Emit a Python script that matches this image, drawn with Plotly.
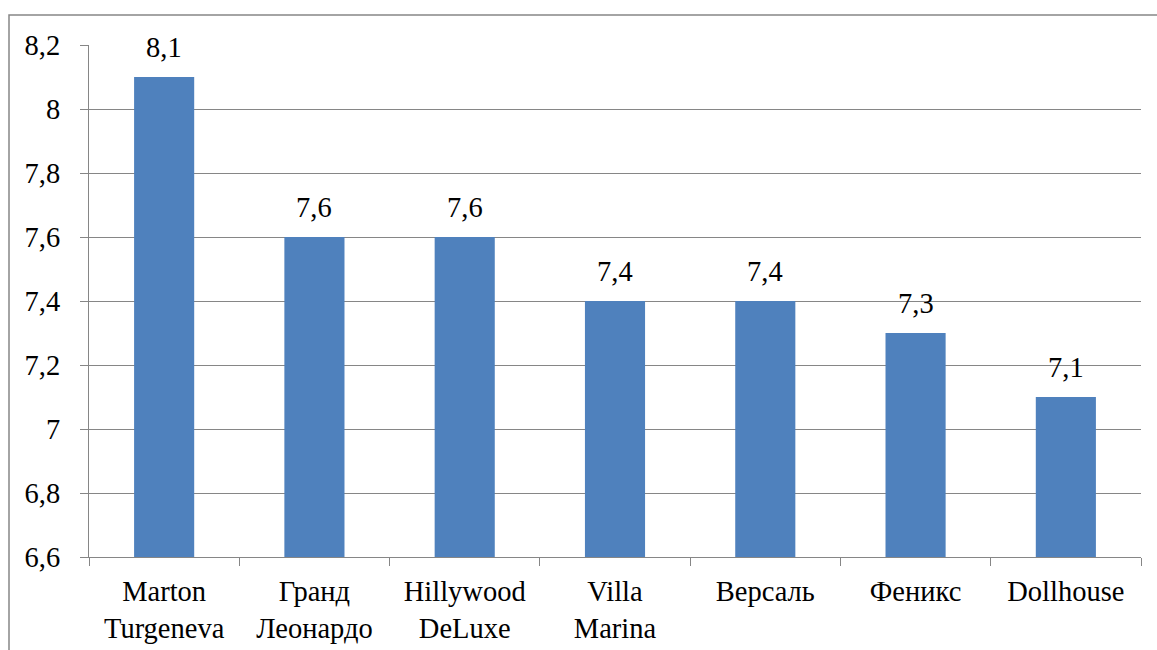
import plotly.graph_objects as go

categories = ["Marton<br>Turgeneva", "Гранд<br>Леонардо", "Hillywood<br>DeLuxe", "Villa<br>Marina", "Версаль", "Феникс", "Dollhouse"]
values = [8.1, 7.6, 7.6, 7.4, 7.4, 7.3, 7.1]
labels = [f"{v}".replace(".", ",") for v in values]

grid = "#868686"
font = "Liberation Serif"
fs = 28.5

fig = go.Figure(go.Bar(
    x=categories, y=values,
    marker=dict(color="#4F81BD", line=dict(width=0)),
    width=0.4,
))
for c, v, t in zip(categories, values, labels):
    fig.add_annotation(x=c, y=v, text=t, showarrow=False, yanchor="bottom",
                       yshift=12, font=dict(size=fs, color="black", family=font))

fig.update_layout(
    width=1157, height=650,
    margin=dict(l=89, r=16, t=45, b=93),
    paper_bgcolor="white", plot_bgcolor="white",
    separators=", ",
    font=dict(family=font, size=fs, color="black"),
    showlegend=False,
    bargap=0.6,
)
fig.update_yaxes(
    range=[6.6, 8.2], dtick=0.2, tick0=6.6,
    showgrid=True, gridcolor=grid, gridwidth=1.3,
    showline=True, linecolor=grid, linewidth=1.3,
    ticks="outside", ticklen=8, tickcolor=grid, tickwidth=1.3,
    tickfont=dict(size=fs, family=font), zeroline=False,
    ticklabelstandoff=14, automargin=False,
)
fig.update_xaxes(
    showline=True, linecolor=grid, linewidth=1.3,
    ticks="outside", ticklen=8, tickcolor=grid, tickwidth=1.3,
    tickson="boundaries", showgrid=False,
    tickfont=dict(size=fs, family=font),
    ticklabelstandoff=9, automargin=False,
)
# outer chart frame
fig.add_shape(type="rect", xref="paper", yref="paper",
              x0=-80/1052, x1=1.2, y0=-0.3, y1=(557-15)/512,
              line=dict(color=grid, width=1.5), fillcolor="rgba(0,0,0,0)", layer="below")

fig.write_html("out.html")
